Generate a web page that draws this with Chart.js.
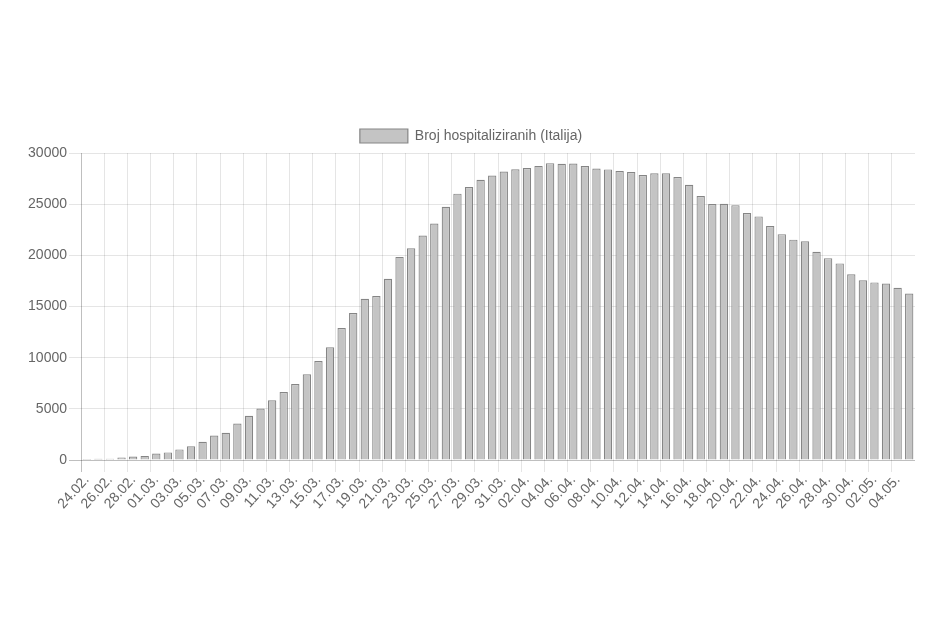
<!DOCTYPE html>
<html>
<head>
<meta charset="utf-8">
<script src="https://cdn.jsdelivr.net/npm/chart.js@4/dist/chart.umd.min.js"></script>
<style>
  html, body { margin: 0; padding: 0; background: #fff; }
  #wrap { position: absolute; left: 0; top: 0; width: 938px; height: 625px; }
</style>
</head>
<body>
<div id="wrap"><canvas id="hospChart"></canvas></div>
<script>
// dates shown on the x axis (every day, every other label printed)
const days = [
  "24.02.", "25.02.", "26.02.", "27.02.", "28.02.", "29.02.",
  "01.03.", "02.03.", "03.03.", "04.03.", "05.03.", "06.03.", "07.03.", "08.03.", "09.03.", "10.03.",
  "11.03.", "12.03.", "13.03.", "14.03.", "15.03.", "16.03.", "17.03.", "18.03.", "19.03.", "20.03.",
  "21.03.", "22.03.", "23.03.", "24.03.", "25.03.", "26.03.", "27.03.", "28.03.", "29.03.", "30.03.", "31.03.",
  "01.04.", "02.04.", "03.04.", "04.04.", "05.04.", "06.04.", "07.04.", "08.04.", "09.04.", "10.04.",
  "11.04.", "12.04.", "13.04.", "14.04.", "15.04.", "16.04.", "17.04.", "18.04.", "19.04.", "20.04.",
  "21.04.", "22.04.", "23.04.", "24.04.", "25.04.", "26.04.", "27.04.", "28.04.", "29.04.", "30.04.",
  "01.05.", "02.05.", "03.05.", "04.05.", "05.05."
];

// hospitalised patients in Italy
const hospitalised = [
  101, 114, 128, 248, 345, 401,
  639, 742, 1034, 1346, 1790, 2394, 2651, 3557, 4316, 5038,
  5838, 6650, 7426, 8372, 9663, 11025, 12894, 14363, 15757, 16020,
  17708, 19846, 20692, 21937, 23112, 24753, 26029, 26676, 27386, 27795, 28192,
  28403, 28540, 28741, 29010, 28949, 28976, 28718, 28485, 28399, 28242,
  28144, 27847, 28023, 28011, 27643, 26893, 25786, 25007, 25033, 24906,
  24134, 23805, 22871, 22068, 21533, 21372, 20353, 19723, 19210, 18149,
  17569, 17357, 17242, 16823, 16270
];

const yTicks = [0, 5000, 10000, 15000, 20000, 25000, 30000];

const fontFamily = "'Helvetica Neue', Helvetica, Arial, sans-serif";
const gridLight = "rgba(0,0,0,0.1)";
const gridZero = "rgba(0,0,0,0.25)";

function xGridColor(ctx) {
  // a line only at the left edge of every labelled day, none at the far right
  if (ctx.type !== "tick" || ctx.index === undefined) return "transparent";
  if (ctx.index % 2 || ctx.index >= days.length) return "transparent";
  return ctx.index === 0 ? gridZero : gridLight;
}

function yGridColor(ctx) {
  return ctx.index === 0 ? gridZero : gridLight;
}

const ctx = document.getElementById("hospChart").getContext("2d");
const chart = new Chart(ctx, {
  type: "bar",
  data: {
    labels: days,
    datasets: [{
      label: "Broj hospitaliziranih (Italija)",
      data: hospitalised,
      backgroundColor: "#c4c4c4",
      borderColor: "#858585",
      borderWidth: 1.2
    }]
  },
  options: {
    responsive: true,
    maintainAspectRatio: false,
    animation: false,
    layout: { padding: { top: 119, left: 27, right: 23, bottom: 111 } },
    plugins: {
      tooltip: { enabled: false },
      legend: {
        labels: {
          color: "#666",
          boxWidth: 48,
          boxHeight: 14,
          font: { family: fontFamily, size: 14 }
        }
      }
    },
    scales: {
      x: {
        afterFit: s => { s.height = 54; },
        grid: { offset: true, color: xGridColor, tickLength: 12, lineWidth: 1 },
        border: { display: false },
        ticks: {
          autoSkip: false,
          minRotation: 48,
          maxRotation: 48,
          padding: 0,
          color: "#666",
          font: { family: fontFamily, size: 14 },
          callback: function (value, index) {
            return index % 2 ? "" : this.getLabelForValue(value);
          }
        }
      },
      y: {
        min: 0,
        max: yTicks[yTicks.length - 1],
        afterFit: s => { s.width = 54; },
        afterBuildTicks: s => { s.ticks = yTicks.map(v => ({ value: v })); },
        grid: { color: yGridColor, tickLength: 12, lineWidth: 1 },
        border: { display: false },
        ticks: {
          padding: 2,
          color: "#666",
          font: { family: fontFamily, size: 14 },
          callback: v => String(v)
        }
      }
    }
  }
});
</script>
</body>
</html>
